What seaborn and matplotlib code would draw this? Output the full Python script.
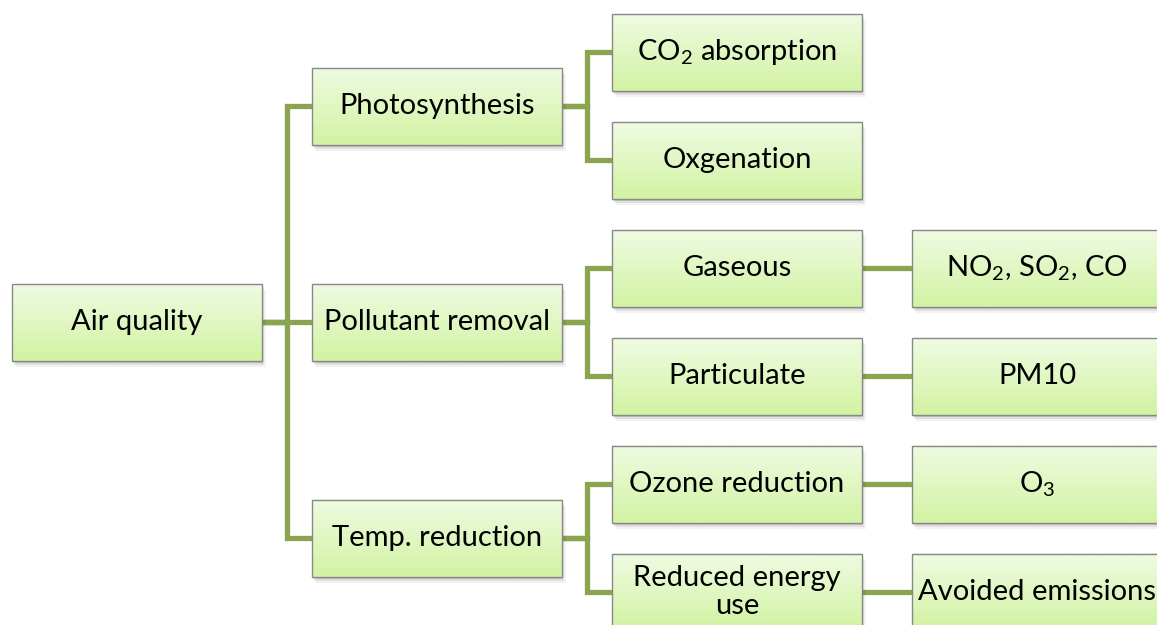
import numpy as np
import pandas as pd
import matplotlib
matplotlib.use("Agg")
import matplotlib.pyplot as plt
import seaborn as sns
from matplotlib.patches import Rectangle
from matplotlib.colors import LinearSegmentedColormap

# Nodes of the tree and the parent of each one (-1 = root)
labels = ["Air quality",
          "Photosynthesis", "Pollutant removal", "Temp. reduction",
          "CO$_2$ absorption", "Oxgenation", "Gaseous", "Particulate",
          "Ozone reduction", "Reduced energy\nuse",
          "NO$_2$, SO$_2$, CO", "PM10", "O$_3$", "Avoided emissions"]
parents = [-1, 0, 0, 0, 1, 1, 2, 2, 3, 3, 6, 7, 8, 9]

# layout (units: one level = 300 px, one row = 108 px)
BOX_W = 250 / 300
BOX_H = 77 / 108
LINE_COLOR = "#8aa44f"

sns.set_theme(style="white")
plt.rcParams['font.family'] = ['Lato', 'DejaVu Sans']
plt.rcParams['mathtext.fontset'] = 'custom'
plt.rcParams['mathtext.rm'] = 'Lato'
plt.rcParams['mathtext.default'] = 'regular'

# levels and rows from the tree structure
n = len(labels)
children = {i: [j for j in range(n) if parents[j] == i] for i in range(n)}
level = [0] * n
for i in range(n):
    if parents[i] >= 0:
        level[i] = level[parents[i]] + 1
row = [0.0] * n
counter = [0]

def place(i):
    kids = children[i]
    if not kids:
        row[i] = counter[0]
        counter[0] += 1
    else:
        for k in kids:
            place(k)
        row[i] = np.mean([row[k] for k in kids])

place(0)

# connector paths
segs = []
for c in range(n):
    p = parents[c]
    if p < 0:
        continue
    xp = level[p] + BOX_W
    xm = level[p] + BOX_W + (1 - BOX_W) / 2
    xc = level[c]
    pts = [(xp, row[p]), (xm, row[p]), (xm, row[c]), (xc, row[c])]
    for k, (x, y) in enumerate(pts):
        segs.append({"edge": c, "order": k, "x": x, "y": y})
edges = pd.DataFrame(segs)

fig = plt.figure(figsize=(11.57, 6.25), dpi=100)
ax = fig.add_axes([0, 0, 1, 1])

sns.lineplot(data=edges, x="x", y="y", units="edge", estimator=None, sort=False,
             color=LINE_COLOR, lw=3.8, ax=ax, zorder=1, legend=False)
for line in ax.lines:
    line.set_solid_joinstyle("miter")
    line.set_solid_capstyle("butt")

cmap = LinearSegmentedColormap.from_list("box", ["#effbe2", "#d2f3a3"])
grad = np.linspace(0, 1, 64).reshape(-1, 1)

for i in range(n):
    left = level[i]
    top = row[i] - BOX_H / 2
    bottom = row[i] + BOX_H / 2
    # soft shadow
    for k, a in enumerate([0.12, 0.08, 0.05]):
        off = 0.008 * (k + 1)
        ax.add_patch(Rectangle((left + off * 0.5, top + off * 2.4), BOX_W, BOX_H,
                               facecolor="black", edgecolor="none", alpha=a, zorder=2))
    ax.imshow(grad, extent=[left, left + BOX_W, bottom, top], cmap=cmap,
              aspect="auto", origin="upper", zorder=3, interpolation="bilinear")
    ax.add_patch(Rectangle((left, top), BOX_W, BOX_H, facecolor="none",
                           edgecolor="#888888", lw=1.0, zorder=4))
    ax.text(left + BOX_W / 2, row[i], labels[i], ha="center", va="center",
            fontsize=21, color="black", zorder=5, linespacing=1.08)

ax.set_xlim(-12 / 300, (1157 - 12) / 300)
ax.set_ylim((625 - 52) / 108, -52 / 108)
ax.axis("off")
fig.savefig("out.png", dpi=100, facecolor="white")
